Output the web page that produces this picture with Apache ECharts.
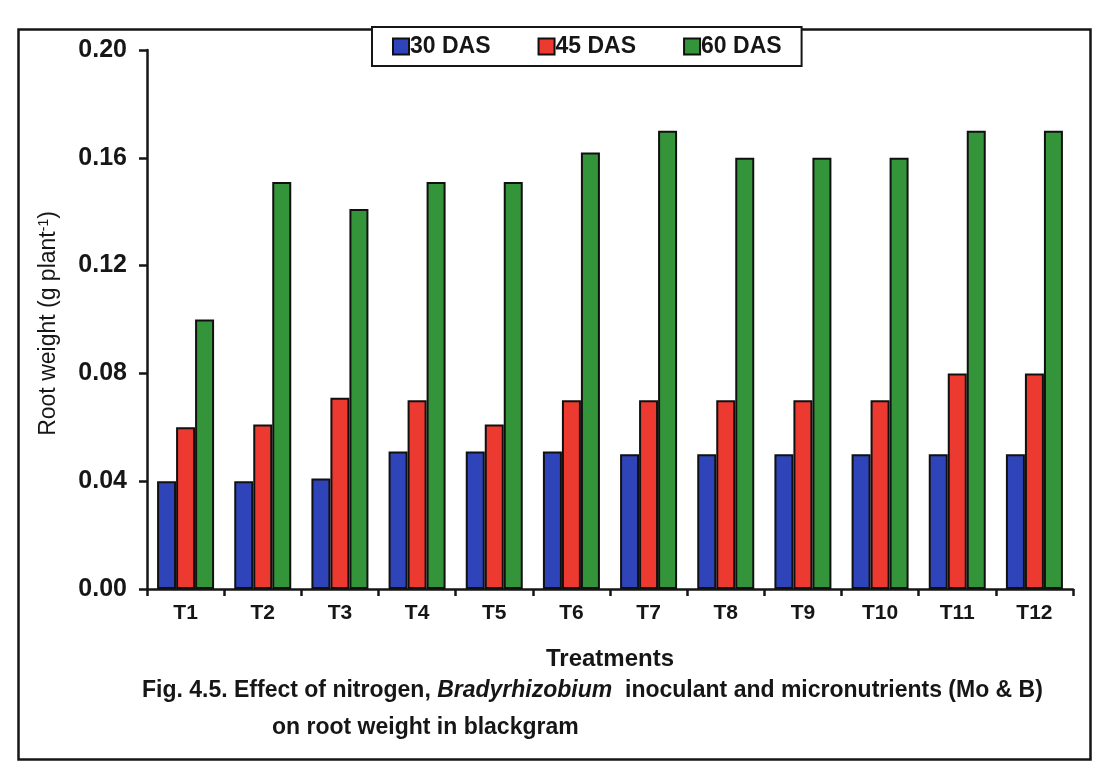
<!DOCTYPE html>
<html>
<head>
<meta charset="utf-8">
<script src="https://cdn.jsdelivr.net/npm/echarts@6/dist/echarts.min.js"></script>
<style>
html,body{margin:0;padding:0;background:#fff;}
#chart{width:1097px;height:778px;}
</style>
</head>
<body>
<div id="chart"></div>
<script>
const categories = ['T1','T2','T3','T4','T5','T6','T7','T8','T9','T10','T11','T12'];
const das30 = [0.040, 0.040, 0.041, 0.051, 0.051, 0.051, 0.050, 0.050, 0.050, 0.050, 0.050, 0.050];
const das45 = [0.060, 0.061, 0.071, 0.070, 0.061, 0.070, 0.070, 0.070, 0.070, 0.070, 0.080, 0.080];
const das60 = [0.100, 0.151, 0.141, 0.151, 0.151, 0.162, 0.170, 0.160, 0.160, 0.160, 0.170, 0.170];
const seriesNames = ['30 DAS','45 DAS','60 DAS'];
const yTicks = {min: 0, max: 0.20, interval: 0.04};

const colors = ['#2e44b8','#ec3a31','#34943a'];
const font = 'Arial, "Liberation Sans", sans-serif';
const ink = '#161616';

const chart = echarts.init(document.getElementById('chart'), null, {renderer:'canvas'});
const mk = (name, data, i) => ({
  name, type:'bar', data, barWidth:19, barGap:'0%',
  itemStyle:{color:colors[i], borderColor:'#101010', borderWidth:2},
  emphasis:{disabled:true}
});
chart.setOption({
  backgroundColor:'#fff',
  animation:false,
  legend:{
    data:seriesNames,
    left:372, top:27,
    itemWidth:16, itemHeight:16, itemGap:47,
    padding:[8,20,8,20],
    borderColor:ink, borderWidth:2, backgroundColor:'#fff',
    icon:'rect',
    textStyle:{fontFamily:font, fontSize:23, fontWeight:'bold', color:ink, padding:[0,0,0,-4]},
    z:10
  },
  grid:{left:147, right:24, top:50, bottom:189},
  xAxis:{
    type:'category', data:categories,
    axisLine:{lineStyle:{color:ink, width:2.5}},
    axisTick:{show:true, length:7, lineStyle:{color:ink, width:2.5}},
    axisLabel:{fontFamily:font, fontSize:21, fontWeight:'bold', color:ink, margin:14},
    name:'Treatments', nameLocation:'middle', nameGap:58,
    nameTextStyle:{fontFamily:font, fontSize:24, fontWeight:'bold', color:ink}
  },
  yAxis:{
    type:'value', min:yTicks.min, max:yTicks.max, interval:yTicks.interval,
    axisLine:{show:true, lineStyle:{color:ink, width:2.5}},
    axisTick:{show:true, length:8, lineStyle:{color:ink, width:2.5}},
    splitLine:{show:false},
    axisLabel:{fontFamily:font, fontSize:25, fontWeight:'bold', color:ink, margin:20,
      formatter:v=>v.toFixed(2)},
    name:'Root weight (g plant{sup|-1})', nameLocation:'middle', nameGap:86,
    nameTextStyle:{fontFamily:font, fontSize:23, color:ink, padding:[0,0,0,-8],
      rich:{sup:{fontFamily:font, fontSize:14, color:ink, verticalAlign:'top', padding:[0,0,10,0]}}}
  },
  series:[mk(seriesNames[0], das30, 0), mk(seriesNames[1], das45, 1), mk(seriesNames[2], das60, 2)],
  graphic:[
    {type:'rect', left:16, top:27, shape:{width:1072, height:730},
     style:{fill:'none', stroke:ink, lineWidth:2.5}, z:-1, silent:true},
    {type:'text', left:142, top:679,
     style:{text:'Fig. 4.5. Effect of nitrogen, {i|Bradyrhizobium}  inoculant and micronutrients (Mo & B)',
       font:'bold 23px Arial, "Liberation Sans", sans-serif', fill:ink,
       rich:{i:{fontFamily:font, fontSize:23, fontWeight:'bold', fontStyle:'italic', fill:ink}}}},
    {type:'text', left:272, top:716,
     style:{text:'on root weight in blackgram',
       font:'bold 23px Arial, "Liberation Sans", sans-serif', fill:ink}}
  ]
});
</script>
</body>
</html>
